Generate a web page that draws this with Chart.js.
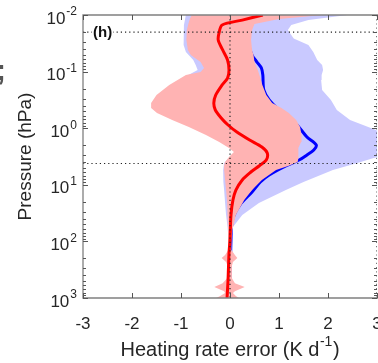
<!DOCTYPE html>
<html>
<head>
<meta charset="utf-8">
<script src="https://cdn.jsdelivr.net/npm/chart.js@4.4.1/dist/chart.umd.min.js"></script>
<style>
  html, body { margin: 0; padding: 0; background: #fff; }
  #wrap { width: 378px; height: 363px; }
</style>
</head>
<body>
<div id="wrap"><canvas id="heatChart"></canvas></div>
<script>
// pressure (hPa) levels and heating rate error (K/d)
const redMeanP = [0.01, 0.0123, 0.015, 0.02, 0.0277, 0.0415, 0.0624, 0.0937, 0.13, 0.172, 0.259, 0.359, 0.477, 0.66, 0.878, 1.17, 1.62, 2.15, 2.74, 3.65, 4.6, 6, 8.2, 12.4, 18.6, 34.2, 94, 160, 481, 1000];
const redMean  = [0.67, 0.25, -0.16, -0.22, -0.24, -0.15, -0.05, -0.02, -0.05, -0.16, -0.29, -0.33, -0.3, -0.18, -0.04, 0.14, 0.4, 0.65, 0.76, 0.74, 0.6, 0.42, 0.25, 0.12, 0.06, 0.02, 0.0, -0.02, -0.04, -0.06];

const redBandP = [0.01, 0.0118, 0.0144, 0.0184, 0.0277, 0.0415, 0.0509, 0.0677, 0.0863, 0.1017, 0.115, 0.172, 0.259, 0.359, 0.44, 0.538, 0.717, 0.953, 1.32, 1.75, 2.24, 2.63, 3.23, 3.95, 4.6, 5.48, 8.2, 12.4, 18.6, 34.2, 63, 94, 142, 174, 196, 231, 270, 450, 550, 640, 760, 816, 925, 1000];
const redLow   = [-0.78, -0.82, -0.85, -0.88, -0.89, -0.86, -0.8, -0.6, -0.53, -0.6, -0.9, -1.24, -1.5, -1.61, -1.61, -1.49, -1.18, -0.84, -0.49, -0.22, -0.02, 0.08, -0.02, -0.1, -0.12, -0.12, -0.1, -0.08, -0.06, -0.05, -0.04, -0.03, -0.04, -0.1, -0.17, -0.08, -0.05, -0.06, -0.15, -0.32, -0.12, -0.1, -0.2, -0.28];
const redHigh  = [1.9, 1.0, 0.5, 0.45, 0.43, 0.45, 0.48, 0.5, 0.55, 0.58, 0.6, 0.66, 0.74, 0.86, 1.05, 1.2, 1.35, 1.43, 1.46, 1.45, 1.4, 1.39, 1.4, 1.38, 1.2, 0.94, 0.65, 0.45, 0.29, 0.12, 0.05, 0.03, 0.03, 0.1, 0.15, 0.06, 0.04, 0.04, 0.1, 0.3, 0.1, 0.06, 0.12, 0.18];

const blueMeanP = [0.01, 0.0123, 0.015, 0.0277, 0.0509, 0.0677, 0.0863, 0.115, 0.211, 0.317, 0.477, 0.66, 0.878, 1.43, 1.98, 2.43, 2.97, 3.65, 4.6, 6.72, 8.93, 13.4, 22.8, 41.9, 94, 1000];
const blueMean  = [0.8, 0.55, 0.35, 0.35, 0.45, 0.55, 0.64, 0.67, 0.69, 0.8, 1.0, 1.2, 1.37, 1.57, 1.76, 1.71, 1.57, 1.41, 1.15, 0.8, 0.62, 0.45, 0.2, 0.05, 0.02, 0.0];

const blueBandP = [0.01, 0.0123, 0.015, 0.0184, 0.026, 0.0339, 0.045, 0.0624, 0.0764, 0.0937, 0.115, 0.141, 0.211, 0.317, 0.477, 0.717, 1.08, 1.62, 2.24, 2.63, 3.23, 4.12, 5.48, 7.0, 8.93, 12.4, 21, 34.2, 55.7, 94, 1000];
const blueLow   = [-0.9, -0.92, -0.94, -0.95, -0.95, -0.94, -0.9, -0.75, -0.7, -0.66, -0.85, -0.95, -1.25, -1.5, -1.55, -1.1, -0.6, -0.2, 0.03, 0.1, 0.0, -0.12, -0.14, -0.14, -0.13, -0.12, -0.1, -0.08, -0.05, -0.03, -0.03];
const blueHigh  = [2.4, 1.6, 1.25, 1.18, 1.3, 1.6, 1.7, 1.78, 1.88, 1.9, 1.87, 1.86, 1.88, 2.06, 2.18, 2.45, 2.98, 3.3, 3.4, 3.3, 3.0, 2.6, 2.1, 1.8, 1.5, 1.14, 0.59, 0.25, 0.06, 0.03, 0.03];

const refPressures = [0.02, 4.2];
const xTicks = [-3, -2, -1, 0, 1, 2, 3];
const yTickExp = [-2, -1, 0, 1, 2, 3];

const FONT = '"Liberation Sans", Arial, sans-serif';

function profile(ps, vs) {
  return ps.map((p, i) => ({x: vs[i], y: p}));
}
function band(ps, lo, hi) {
  const left = profile(ps, lo);
  const right = profile(ps, hi).reverse();
  return left.concat(right);
}

const dotted = {borderColor: '#222', borderWidth: 1.2, borderDash: [1.2, 3], pointRadius: 0, fill: false};

const datasets = [
  Object.assign({data: [{x: 0, y: 0.01}, {x: 0, y: 1000}]}, dotted),
  Object.assign({data: [{x: 3, y: 0.01}, {x: 3, y: 1000}]}, dotted),
  Object.assign({data: [{x: -3, y: refPressures[0]}, {x: 3, y: refPressures[0]}]}, dotted),
  Object.assign({data: [{x: -3, y: refPressures[1]}, {x: 3, y: refPressures[1]}]}, dotted),
  {data: profile(redMeanP, redMean), borderColor: '#ff0000', borderWidth: 3, pointRadius: 0, tension: 0.3, fill: false},
  {data: band(redBandP, redLow, redHigh), borderWidth: 0, backgroundColor: '#ffb3b3', pointRadius: 0, fill: 'shape'},
  {data: profile(blueMeanP, blueMean), borderColor: '#0000ff', borderWidth: 3, pointRadius: 0, tension: 0.3, fill: false},
  {data: band(blueBandP, blueLow, blueHigh), borderWidth: 0, backgroundColor: '#c9c9ff', pointRadius: 0, fill: 'shape'}
];

const frame = {
  id: 'frame',
  afterDatasetsDraw(chart) {
    const {ctx, chartArea: a, scales: {x, y}} = chart;
    ctx.save();
    // panel letter
    ctx.font = 'bold 15px ' + FONT;
    ctx.textBaseline = 'middle';
    ctx.textAlign = 'left';
    const ly = y.getPixelForValue(refPressures[0]);
    const w = ctx.measureText('(h)').width;
    ctx.fillStyle = '#fff';
    ctx.fillRect(a.left + 9, ly - 8, w + 2, 16);
    ctx.fillStyle = '#111';
    ctx.fillText('(h)', a.left + 10, ly + 1);

    // box and inward ticks
    ctx.strokeStyle = '#808080';
    ctx.lineWidth = 1.3;
    ctx.beginPath();
    ctx.moveTo(a.right + 2, a.top);
    ctx.lineTo(a.left, a.top);
    ctx.lineTo(a.left, a.bottom);
    ctx.lineTo(a.right + 2, a.bottom);
    ctx.stroke();
    ctx.lineWidth = 1;
    ctx.strokeStyle = '#555';
    ctx.beginPath();
    xTicks.forEach(v => {
      const px = Math.round(x.getPixelForValue(v)) + 0.5;
      ctx.moveTo(px, a.bottom); ctx.lineTo(px, a.bottom - 5);
      ctx.moveTo(px, a.top); ctx.lineTo(px, a.top + 5);
    });
    yTickExp.forEach(e => {
      for (let m = 1; m <= 9; m++) {
        const p = m * Math.pow(10, e);
        if (p > 1000) break;
        const py = Math.round(y.getPixelForValue(p)) + 0.5;
        const len = m === 1 ? 5 : 3;
        ctx.moveTo(a.left, py); ctx.lineTo(a.left + len, py);
        ctx.moveTo(a.right, py); ctx.lineTo(a.right - len, py);
      }
    });
    ctx.stroke();

    // y tick labels with superscript exponents
    ctx.fillStyle = '#262626';
    ctx.textAlign = 'left';
    ctx.textBaseline = 'middle';
    yTickExp.forEach(e => {
      const py = y.getPixelForValue(Math.pow(10, e));
      const exp = e < 0 ? '-' + (-e) : String(e);
      ctx.font = '12px ' + FONT;
      const we = ctx.measureText(exp).width;
      ctx.font = '17px ' + FONT;
      const wb = ctx.measureText('10').width;
      const right = a.left - 6;
      ctx.fillText('10', right - we - wb - 1, py + 4);
      ctx.font = '12px ' + FONT;
      ctx.fillText(exp, right - we, py - 3);
    });

    // x axis title with superscript
    const base = 'Heating rate error (K d';
    const sup = '-1';
    const tail = ')';
    ctx.font = '20px ' + FONT;
    const w1 = ctx.measureText(base).width;
    const w3 = ctx.measureText(tail).width;
    ctx.font = '14px ' + FONT;
    const w2 = ctx.measureText(sup).width;
    const total = w1 + w2 + w3 + 1;
    let tx = (a.left + a.right) / 2 - total / 2;
    const ty = 350;
    ctx.font = '20px ' + FONT;
    ctx.fillText(base, tx, ty);
    ctx.font = '14px ' + FONT;
    ctx.fillText(sup, tx + w1 + 0.5, ty - 8);
    ctx.font = '20px ' + FONT;
    ctx.fillText(tail, tx + w1 + w2 + 1, ty);

    // cut-off glyph from the neighbouring panel
    ctx.font = 'bold 30px ' + FONT;
    ctx.fillStyle = '#555';
    ctx.textBaseline = 'alphabetic';
    ctx.fillText(';', -4, 80);
    ctx.restore();
  }
};

const chart = new Chart(document.getElementById('heatChart'), {
  type: 'line',
  data: {datasets: datasets},
  options: {
    responsive: true,
    maintainAspectRatio: false,
    animation: false,
    layout: {padding: {top: 15, right: 1, left: 0, bottom: 0}},
    plugins: {legend: {display: false}, tooltip: {enabled: false}},
    scales: {
      x: {
        type: 'linear',
        min: -3,
        max: 3,
        grid: {display: false},
        border: {display: false},
        ticks: {
          stepSize: 1,
          padding: 8,
          color: '#262626',
          font: {family: FONT, size: 17},
          maxRotation: 0
        },
        afterFit(scale) { scale.height = 65; scale.paddingLeft = 0; scale.paddingRight = 0; }
      },
      y: {
        type: 'logarithmic',
        reverse: true,
        min: 0.01,
        max: 1000,
        grid: {display: false},
        border: {display: false},
        ticks: {display: false},
        title: {
          display: true,
          text: 'Pressure (hPa)',
          color: '#262626',
          font: {family: FONT, size: 19},
          padding: {top: 14, bottom: 0}
        },
        afterFit(scale) { scale.width = 83; scale.paddingTop = 0; scale.paddingBottom = 0; }
      }
    }
  },
  plugins: [frame]
});
</script>
</body>
</html>
